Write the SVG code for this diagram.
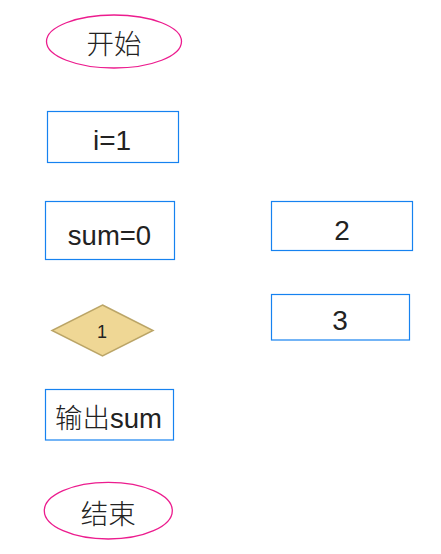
<svg xmlns="http://www.w3.org/2000/svg" width="441" height="554" viewBox="0 0 441 554">
<style>
.term{fill:#fff;stroke:#ec1c8e;stroke-width:1.3}
.proc{fill:#fff;stroke:#1682f0;stroke-width:1.2}
.dec{fill:#efd795;stroke:#bba567;stroke-width:1.5}
text{font-family:"Liberation Sans","Noto Sans CJK SC",sans-serif;fill:#222;text-anchor:middle}
.cjk{font-family:"Noto Sans CJK SC","Liberation Sans",sans-serif;font-weight:300}
.big{font-size:28px}
.mid{font-size:27.5px}
</style>
<rect width="441" height="554" fill="#fff"/>
<g id="connectors"></g>
<g id="start">
<ellipse class="term" cx="114" cy="41.5" rx="67.5" ry="26.5"/>
<text class="mid" x="114" y="54"><tspan class="cjk">开始</tspan></text>
</g>
<g id="init-i">
<rect class="proc" x="47.5" y="111.5" width="131" height="51"/>
<text class="big" x="112" y="150">i=1</text>
</g>
<g id="init-sum">
<rect class="proc" x="45.5" y="201.5" width="129" height="58"/>
<text class="mid" x="109.5" y="245">sum=0</text>
</g>
<g id="decision">
<polygon class="dec" points="102.5,305 153,330.5 102.5,356 52,330.5"/>
<text x="102" y="338" style="font-size:18px">1</text>
</g>
<g id="box2">
<rect class="proc" x="271.5" y="201.5" width="141" height="49"/>
<text class="big" x="342" y="240">2</text>
</g>
<g id="box3">
<rect class="proc" x="271.5" y="294.5" width="138" height="45.5"/>
<text class="big" x="340" y="330">3</text>
</g>
<g id="output">
<rect class="proc" x="45.5" y="389.5" width="128" height="50.5"/>
<text class="mid" x="108.5" y="428"><tspan class="cjk">输出</tspan>sum</text>
</g>
<g id="end">
<ellipse class="term" cx="108.3" cy="510.7" rx="64" ry="28.3"/>
<text class="mid" x="108.3" y="524"><tspan class="cjk">结束</tspan></text>
</g>
</svg>
